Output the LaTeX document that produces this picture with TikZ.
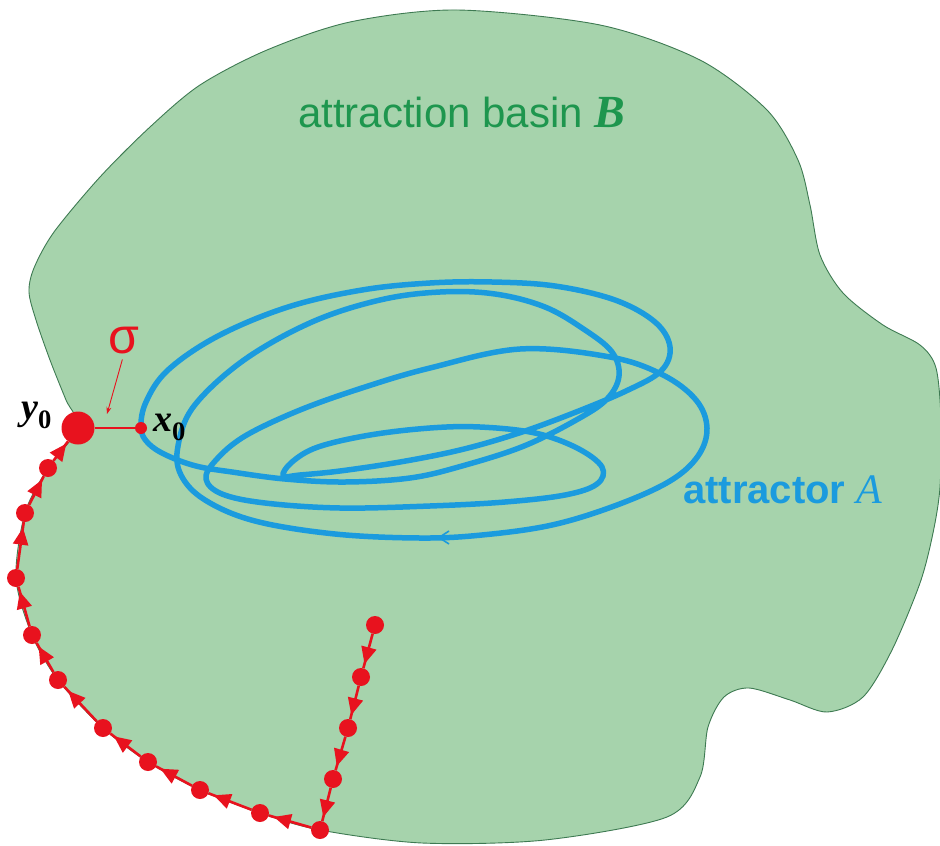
\documentclass[tikz,border=0pt]{standalone}
\usepackage{fontspec}
\setmainfont{Liberation Serif}
\setsansfont{Liberation Sans}
\usetikzlibrary{arrows.meta,decorations.markings}
\definecolor{basinfill}{RGB}{166,211,172}
\definecolor{basinedge}{RGB}{62,122,82}
\definecolor{basingreen}{RGB}{30,150,78}
\definecolor{attrblue}{RGB}{27,155,222}
\definecolor{trajred}{RGB}{232,18,30}

\begin{document}
\begin{tikzpicture}[
  x=1pt,y=-1pt,
  basin/.style={
    fill=basinfill,
    draw=basinedge,
    line width=0.9pt
  },
  orbit/.style={
    draw=attrblue,
    line width=5.5pt,
    line join=round
  },
  traj/.style={
    draw=trajred,
    line width=2.6pt
  },
  dot/.style={
    circle,
    fill=trajred,
    inner sep=0pt,
    minimum size=#1
  },
  dot/.default=18pt,
  mid arrow/.style={
    postaction={decorate},
    decoration={markings,
      mark=at position 0.88 with {\arrow{Triangle[length=17pt,width=15pt]}}}
  },
  point label/.style={
    font=\fontsize{38}{42}\selectfont\bfseries\itshape,
    inner sep=0pt
  }
]

\useasboundingbox (0,0) rectangle (940,846);

\draw[basin] plot[smooth cycle,tension=0.5] coordinates {
  (78,428) (66,400) (50,360) (36,320) (29,292) (34,268) (54,232)
  (100,177) (150,127) (200,85) (267,50) (350,22) (457,10) (600,25)
  (700,60) (767,110) (798,160) (810,205) (820,255) (843,293) (883,325)
  (920,345) (936,368) (941,420) (940,487) (933,533) (920,583) (892,650)
  (863,697) (827,712) (790,700) (749,688) (724,697) (708,727) (700,777)
  (667,817) (545,840) (422,843) (320,830) (260,813) (200,790) (148,762)
  (103,728) (58,680) (32,635) (16,578) (25,513) (48,468)
};

\node[anchor=base west,inner sep=0pt,text=basingreen,
      font=\sffamily\fontsize{42}{48}\selectfont] (basin-label) at (298,127)
  {attraction basin {\rmfamily\bfseries\itshape\fontsize{46}{50}\selectfont B}};

\draw[orbit] plot[smooth cycle,tension=0.6] coordinates {
  (141,428) (146,402) (168,370) (218,336) (288,307) (362,290) (430,283)
  (492,282) (555,286) (615,300) (655,322) (670,347) (661,371)
  (626,391) (571,414) (516,434) (460,450) (400,462) (340,471) (300,475)
  (283,476) (292,462) (318,447) (370,435) (430,428) (480,427) (535,433)
  (577,448) (602,467) (597,484) (565,495) (505,502) (430,506) (340,508)
  (265,503) (222,494) (206,479) (216,460) (245,436) (300,410) (365,387)
  (430,368) (520,349) (610,357) (663,375) (696,400) (707,428) (698,456)
  (670,481) (617,505) (552,525) (482,535) (420,538) (335,534) (255,521)
  (205,500) (181,475) (178,446) (194,406) (244,360) (312,322) (380,300)
  (440,292) (495,294) (545,307) (585,330) (612,352) (619,376) (607,399)
  (578,419) (524,446) (462,466) (410,478) (345,482) (285,479) (232,472)
  (196,466) (166,455) (148,443)
};
\draw[attrblue,line width=1.6pt] (449,531) -- (439,537.5) -- (449,544);

\node[anchor=base west,inner sep=0pt,text=attrblue,
      font=\sffamily\bfseries\fontsize{40}{46}\selectfont] (attractor-label) at (683,503)
  {attractor {\rmfamily\mdseries\itshape\fontsize{42}{46}\selectfont A}};

\node[dot=33pt] (y0) at (78,428) {};
\node[dot=12pt] (x0) at (141,428) {};
\draw[traj] (y0) -- (x0);

\node[point label,anchor=base west] (y0-label) at (21,419) {y\textsubscript{\upshape 0}};
\node[point label,anchor=base west] (x0-label) at (153,431) {x\textsubscript{\upshape 0}};

\node[anchor=base,inner sep=0pt,text=trajred,
      font=\sffamily\fontsize{50}{54}\selectfont] (sigma) at (124,353) {σ};
\coordinate (sigma-tip) at (107,414);
\draw[-{Stealth[length=7pt,width=5pt]},trajred,line width=0.9pt,shorten <=6pt]
  (sigma.south) -- (sigma-tip);

\foreach \n/\x/\y in {c0/320/830,c1/260/813,c2/200/790,c3/148/762,
                      c4/103/728,c5/58/680,c6/32/635,c7/16/578,
                      c8/25/513,c9/48/468,
                      r0/375/625,r1/361/677,r2/348/728,r3/333/779}
  \node[dot] (\n) at (\x,\y) {};

\foreach \a/\b in {c0/c1,c1/c2,c2/c3,c3/c4,c4/c5,c5/c6,c6/c7,c7/c8,c8/c9,c9/y0,
                   r0/r1,r1/r2,r2/r3,r3/c0}
  \draw[traj,mid arrow] (\a) -- (\b);

\end{tikzpicture}
\end{document}
